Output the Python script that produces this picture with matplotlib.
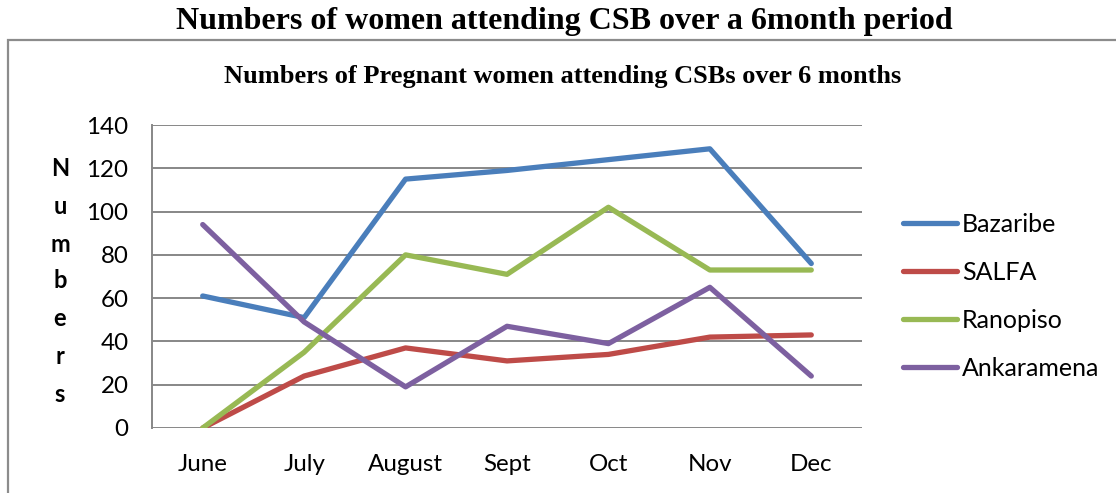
import matplotlib
matplotlib.use("Agg")
import matplotlib.pyplot as plt
from matplotlib.patches import Rectangle

months = ["June", "July", "August", "Sept", "Oct", "Nov", "Dec"]
bazaribe = [61, 51, 115, 119, 124, 129, 76]
salfa = [0, 24, 37, 31, 34, 42, 43]
ranopiso = [0, 35, 80, 71, 102, 73, 73]
ankaramena = [94, 49, 19, 47, 39, 65, 24]
series_names = ["Bazaribe", "SALFA", "Ranopiso", "Ankaramena"]
colors = ["#4A7EBB", "#BE4B48", "#98B954", "#7D60A0"]
yticks = [0, 20, 40, 60, 80, 100, 120, 140]

W, H = 1116, 493
fig = plt.figure(figsize=(W / 100, H / 100), dpi=100)

# outer chart frame
fig.patches.append(Rectangle((8 / W, -0.1), 1.2, 1 - 40 / H + 0.1,
                             transform=fig.transFigure, fill=False,
                             edgecolor="#8C8C8C", linewidth=1.6))

ax = fig.add_axes([152 / W, 1 - 428 / H, (862 - 152) / W, (428 - 125) / H])
x = list(range(len(months)))
for name, vals, c in zip(series_names, [bazaribe, salfa, ranopiso, ankaramena], colors):
    ax.plot(x, vals, color=c, linewidth=3.8, label=name, solid_capstyle="round",
            solid_joinstyle="round")

ax.set_xlim(-0.5, len(months) - 0.5)
ax.set_ylim(0, 140)
ax.set_yticks(yticks)
ax.set_xticks(x)
ax.set_xticklabels(months)
ax.yaxis.grid(True, color="#878787", linewidth=1.4)
ax.set_axisbelow(True)
for s in ["top", "right", "bottom"]:
    ax.spines[s].set_visible(False)
ax.spines["left"].set_color("#878787")
ax.spines["left"].set_linewidth(1.4)
ax.tick_params(axis="both", length=0, labelsize=17.4, colors="black")
ax.tick_params(axis="y", pad=17)
ax.tick_params(axis="x", pad=19)
for lab in ax.get_xticklabels() + ax.get_yticklabels():
    lab.set_fontfamily("Lato")

# vertical y-axis label letters
letters = "Numbers"
ys = [168, 206, 244, 281, 319, 357, 395]
for ch, yy in zip(letters, ys):
    fig.text(60 / W, 1 - yy / H, ch, ha="center", va="center", fontsize=17,
             fontweight="bold", family="Lato")

leg = ax.legend(loc="upper left", bbox_to_anchor=(903 / W, 1 - 213 / H),
                bbox_transform=fig.transFigure, frameon=False,
                prop={"family": "Lato", "size": 18}, handlelength=2.15,
                handletextpad=0.2, labelspacing=1.0, borderaxespad=0,
                borderpad=0)

fig.text(564 / W, 1 - 22 / H, "Numbers of women attending CSB over a 6month period",
         ha="center", va="center", fontsize=23, fontweight="bold",
         family="Liberation Serif")
fig.text(563 / W, 1 - 77 / H, "Numbers of Pregnant women attending CSBs over 6 months",
         ha="center", va="center", fontsize=19, fontweight="bold",
         family="Liberation Serif")

fig.savefig("out.png", dpi=100)
